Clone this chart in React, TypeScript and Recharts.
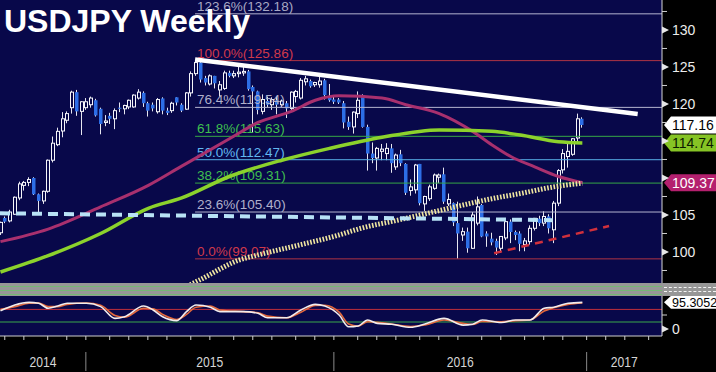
import React from "react";
import { ComposedChart, Bar, Line, XAxis, YAxis, ReferenceLine } from "recharts";

document.body.style.margin = "0";

const FONT = "'Liberation Sans', Arial, sans-serif";
const NAVY = "#08084a";

// weekly bars, week of 18 Aug 2014 to week of 19 Dec 2016
const opens = [
  102.6, 104.6, 104.2, 105.1, 107.3, 109.0, 109.4, 110.0, 107.8, 106.9,
  108.2, 112.4, 114.5, 116.35, 117.8, 119.5, 121.6, 119.0, 119.5, 119.9,
  120.5, 119.35, 117.5, 118.4, 118.0, 119.5, 119.35, 119.6, 119.6, 120.8,
  121.5, 120.1, 119.9, 118.95, 120.75, 119.1, 119.1, 120.9, 119.9, 119.3,
  121.5, 124.1, 125.6, 123.5, 122.7, 123.8, 121.9, 122.1, 124.2, 123.8,
  124.1, 124.2, 124.4, 122.3, 121.7, 119.0, 120.4, 119.9, 120.5, 119.9,
  120.1, 119.4, 121.0, 120.8, 123.0, 123.1, 122.6, 122.6, 123.2, 121.0,
  120.6, 120.6, 120.1, 117.6, 116.9, 118.7, 121.2, 116.9, 113.3, 112.7,
  113.6, 113.3, 114.0, 111.5, 113.2, 111.9, 108.3, 108.4, 111.9, 106.5,
  107.2, 108.6, 110.1, 110.5, 106.5, 106.6, 103.9, 102.3, 102.75, 100.5,
  103.9, 106.35, 102.5, 101.8, 101.5, 100.5, 101.9, 104.1, 102.7, 102.5,
  101.0, 101.4, 103.2, 104.5, 103.9, 104.8, 103.0, 106.6, 111.1, 112.9,
  113.2, 115.4, 118.0,
];
const highs = [
  104.1, 104.8, 105.7, 107.5, 109.5, 109.6, 110.1, 110.1, 107.9, 108.3,
  112.5, 115.6, 116.8, 118.9, 119.0, 121.8, 121.9, 120.4, 120.8, 121.0,
  120.7, 119.5, 118.5, 118.8, 119.4, 120.2, 119.9, 120.6, 121.3, 122.0,
  121.7, 120.3, 120.2, 120.8, 120.9, 119.5, 120.3, 120.9, 120.1, 121.6,
  124.4, 125.9, 125.8, 123.8, 124.0, 123.8, 123.1, 124.5, 124.5, 124.5,
  125.0, 125.3, 124.6, 122.5, 121.8, 121.3, 121.0, 120.9, 121.0, 120.6,
  120.4, 121.7, 121.9, 123.5, 123.8, 123.3, 123.0, 123.7, 123.4, 122.7,
  121.0, 120.8, 120.4, 118.3, 119.0, 121.7, 121.3, 117.2, 114.8, 114.2,
  114.6, 114.7, 114.6, 113.3, 113.8, 112.0, 109.8, 111.9, 111.9, 107.6,
  109.1, 110.6, 110.6, 111.4, 107.9, 106.7, 106.8, 103.3, 103.3, 105.4,
  107.5, 106.5, 102.8, 102.6, 101.8, 102.1, 104.2, 104.4, 102.9, 102.8,
  101.9, 103.6, 104.6, 104.9, 105.5, 105.1, 106.9, 111.2, 113.9, 114.8,
  115.4, 118.7, 118.2,
];
const lows = [
  102.3, 103.9, 104.0, 105.0, 107.0, 108.3, 108.9, 107.7, 105.3, 106.5,
  108.0, 112.1, 114.3, 115.5, 117.4, 118.7, 118.4, 115.8, 119.2, 119.5,
  118.3, 115.9, 117.0, 117.3, 116.6, 118.9, 118.6, 119.3, 119.5, 120.6,
  119.6, 118.3, 119.0, 118.7, 118.6, 118.5, 118.8, 119.8, 118.9, 119.2,
  121.0, 123.8, 122.9, 122.5, 122.5, 122.1, 121.0, 121.9, 123.6, 123.5,
  123.6, 123.8, 121.8, 116.2, 118.6, 118.6, 119.6, 119.2, 118.6, 119.6,
  118.1, 119.2, 120.2, 120.6, 122.5, 122.2, 122.3, 122.2, 120.6, 120.3,
  120.0, 120.0, 116.7, 116.5, 116.0, 118.1, 116.8, 111.0, 112.0, 111.0,
  112.4, 112.4, 110.7, 111.1, 111.6, 107.7, 107.6, 107.9, 106.3, 105.55,
  106.9, 108.4, 109.3, 106.5, 106.2, 103.5, 99.1, 101.5, 99.9, 100.4,
  103.6, 102.0, 100.7, 100.9, 99.6, 99.9, 101.6, 101.2, 101.6, 100.1,
  100.1, 101.0, 102.9, 103.5, 103.5, 102.5, 101.2, 106.2, 110.6, 111.4,
  113.0, 114.8, 116.8,
];
const closes = [
  104.0, 104.1, 105.4, 107.4, 109.2, 109.4, 109.8, 107.8, 106.9, 108.2,
  112.4, 114.7, 116.3, 118.0, 118.7, 121.6, 119.0, 120.3, 120.3, 120.8,
  118.45, 117.3, 117.7, 118.0, 119.1, 119.35, 119.8, 120.5, 121.2, 121.6,
  120.1, 119.1, 119.4, 120.6, 119.1, 118.8, 120.1, 120.2, 119.1, 121.5,
  124.1, 125.6, 123.3, 122.9, 123.8, 122.8, 122.6, 124.2, 123.8, 124.1,
  124.3, 124.4, 122.0, 121.7, 119.2, 120.6, 119.9, 120.6, 119.9, 120.4,
  119.4, 121.6, 121.7, 123.2, 123.4, 122.4, 122.9, 123.1, 121.2, 120.5,
  120.3, 120.2, 117.5, 116.9, 118.9, 120.5, 116.9, 113.3, 112.7, 114.0,
  113.9, 114.0, 112.0, 113.1, 112.0, 108.0, 108.8, 111.75, 106.6, 107.5,
  108.8, 110.4, 110.4, 106.8, 107.1, 104.0, 102.5, 102.75, 100.5, 105.0,
  106.1, 102.1, 102.1, 101.3, 100.6, 102.1, 104.1, 102.7, 102.3, 101.1,
  101.5, 103.2, 104.55, 103.9, 104.8, 103.2, 106.6, 111.0, 113.3, 113.6,
  115.3, 118.0, 117.16,
];

// moving averages, read at a few weeks each
const maPurpleWeeks = [0, 10, 21, 31, 38, 48, 54, 61, 66, 71, 80, 85, 92, 99, 103, 107, 112, 117, 122];
const maPurpleValues = [101.4, 103.1, 106.1, 109.0, 111.6, 115.3, 117.5, 119.0, 120.5, 121.1, 120.8, 119.9, 118.7, 116.3, 114.5, 112.9, 111.5, 110.2, 109.37];
const maGreenWeeks = [0, 10, 21, 31, 38, 48, 59, 69, 80, 92, 103, 109, 117, 122];
const maGreenValues = [97.3, 99.5, 102.5, 105.9, 107.3, 110.2, 112.4, 114.0, 115.5, 116.5, 116.3, 115.8, 114.9, 114.74];
const maDottedWeeks = [38, 42, 50, 54, 63, 71, 75, 84, 92, 96, 103, 109, 116, 122];
const maDottedValues = [95.0, 96.3, 98.9, 99.6, 101.0, 102.3, 103.1, 104.4, 105.6, 106.2, 107.2, 107.9, 108.8, 109.3];

// stochastic oscillator
const stochWeeks = [0, 3, 6, 8, 10, 12, 14, 18, 21, 24, 26, 30, 32, 34, 37, 39, 41, 44, 46, 51, 54, 56, 60, 63, 66, 68, 71, 73, 75, 77, 79, 82, 86, 89, 93, 97, 99, 101, 105, 108, 111, 114, 116, 119, 122];
const stochK = [65, 86, 95, 92, 74, 82, 92, 92, 80, 38, 44, 82, 68, 44, 30, 62, 86, 78, 62, 62, 56, 40, 40, 68, 88, 82, 50, 8, 11, 32, 20, 17, 6, 18, 38, 14, 17, 32, 23, 32, 32, 74, 78, 92, 95.3];
const stochD = [70, 80, 92, 93, 80, 80, 88, 93, 85, 48, 42, 74, 72, 52, 34, 52, 78, 82, 68, 62, 58, 46, 40, 60, 84, 85, 60, 18, 10, 26, 24, 18, 9, 14, 32, 20, 16, 27, 26, 30, 32, 64, 76, 88, 93];
const stochUpper = 70;
const stochLower = 25;
const stochLast = "95.3052";

// fibonacci retracement
const fibLabels = ["123.6%(132.18)", "100.0%(125.86)", "76.4%(119.54)", "61.8%(115.63)", "50.0%(112.47)", "38.2%(109.31)", "23.6%(105.40)", "0.0%(99.07)"];
const fibValues = [132.18, 125.86, 119.54, 115.63, 112.47, 109.31, 105.4, 99.07];
const fibFrom = 40.8;
const fibTo = 138.7;

// trend lines: [week, price] pairs
const resistance = [[40.8, 126.0], [133.6, 118.65]];
const support = [[-0.1, 105.23], [115.8, 104.3]];
const risingSupport = [[103.5, 99.83], [127.6, 103.51]];

// axes
const priceTicks = [97.5, 100, 102.5, 105, 107.5, 110, 112.5, 115, 117.5, 120, 122.5, 125, 127.5, 130, 132.5];
const priceLabels = [100, 105, 120, 125, 130];
const monthTicks = [0.9, 4.9, 9.9, 13.9, 17.9, 22.9, 26.9, 30.9, 34.9, 39.9, 43.9, 48.9, 52.9, 56.9, 61.9, 65.9, 69.9, 74.9, 78.9, 82.9, 87.9, 91.9, 95.9, 100.9, 104.9, 109.9, 113.9, 117.9, 122.9, 126.9, 130.9, 135.9];
const yearBreaks = [17.9, 69.9, 122.9];
const yearLabels = ["2014", "2015", "2016", "2017"];
const yearLabelAt = [8.9, 43.9, 96.4, 130.8];

const tags = [
  { value: 117.16, text: "117.16", fill: "#ffffff", color: "#000000" },
  { value: 114.74, text: "114.74", fill: "#86c425", color: "#0a1a00" },
  { value: 109.37, text: "109.37", fill: "#b4206e", color: "#ffffff" },
];

const FIB_LINE = ["#b4b4d0", "#b03444", "#b4b4d0", "#36a846", "#58b0e8", "#36a846", "#b4b4d0", "#b03444"];
const FIB_TEXT = ["#a8a8c4", "#d0394a", "#b0b0cc", "#3fbf4f", "#62b8f0", "#3fbf4f", "#b0b0cc", "#d0394a"];

const pick = (weeks: number[], vals: number[], i: number) => {
  const k = weeks.indexOf(i);
  return k >= 0 ? vals[k] : null;
};

const mainData = opens.map((o, i) => ({
  i,
  o,
  h: highs[i],
  l: lows[i],
  c: closes[i],
  range: [lows[i], highs[i]],
  purple: pick(maPurpleWeeks, maPurpleValues, i),
  green: pick(maGreenWeeks, maGreenValues, i),
  dotted: pick(maDottedWeeks, maDottedValues, i),
}));

const lowerData = opens.map((_, i) => ({
  i,
  k: pick(stochWeeks, stochK, i),
  d: pick(stochWeeks, stochD, i),
}));

function Candle(props: any) {
  const { x, y, width, height, payload } = props;
  if (!payload || x == null) return null;
  const top = Math.min(y, y + height);
  const bottom = Math.max(y, y + height);
  const { o, h, l, c } = payload;
  const span = h - l || 1;
  const py = (v: number) => bottom - ((v - l) / span) * (bottom - top);
  const n = Math.floor(x + width / 2);
  const cx = n + 0.5;
  const yo = py(o);
  const yc = py(c);
  const bt = Math.min(yo, yc);
  const bh = Math.max(Math.abs(yo - yc), 1);
  return (
    <g>
      <line x1={cx} x2={cx} y1={top} y2={bottom} stroke="#e6e6f0" strokeWidth={1} />
      {c >= o ? (
        <rect x={n - 0.5} y={bt} width={3} height={bh} fill={NAVY} stroke="#f6f6fa" strokeWidth={1} />
      ) : (
        <rect x={n - 1} y={bt} width={3.5} height={bh} fill="#2d6ee6" />
      )}
    </g>
  );
}

function PriceTick(props: any) {
  const { y, payload } = props;
  const v = payload.value;
  if (v % 5 !== 0) return <line x1={662} x2={667} y1={y} y2={y} stroke="#cfcfcf" />;
  return (
    <g>
      <path d={`M662 ${y - 3.5} L669 ${y} L662 ${y + 3.5} Z`} fill="#e6e6e6" />
      {priceLabels.includes(v) && (
        <text x={672} y={y + 5} fill="#ececec" fontSize={14} fontFamily={FONT}>
          {v}
        </text>
      )}
    </g>
  );
}

function OscTick(props: any) {
  const { y, payload } = props;
  if (payload.value !== 0) return <line x1={662} x2={667} y1={y} y2={y} stroke="#cfcfcf" />;
  return (
    <g>
      <path d={`M662 ${y - 3.5} L669 ${y} L662 ${y + 3.5} Z`} fill="#e6e6e6" />
      <text x={672} y={y + 5} fill="#ececec" fontSize={14} fontFamily={FONT}>
        0
      </text>
    </g>
  );
}

const EmptyTick = () => <g />;

function fibLabel(text: string, color: string) {
  return (p: any) => {
    const vb = p.viewBox || {};
    return (
      <text x={vb.x + 2} y={vb.y - 3} fill={color} fontSize={13.5} fontFamily={FONT}>
        {text}
      </text>
    );
  };
}

function valueTag(text: string, fill: string, color: string, half: number, size: number) {
  return (p: any) => {
    const vb = p.viewBox || {};
    const x0 = vb.x + vb.width;
    const y = vb.y;
    return (
      <g>
        <path d={`M${x0 + 2} ${y} L${x0 + 9} ${y - half} H716 V${y + half} H${x0 + 9} Z`} fill={fill} />
        <text x={x0 + 10} y={y + size * 0.36} fill={color} fontSize={size} fontFamily={FONT}>
          {text}
        </text>
      </g>
    );
  };
}

function yearBreak() {
  return (p: any) => {
    const vb = p.viewBox || {};
    const b = vb.y + vb.height;
    return <line x1={vb.x} x2={vb.x} y1={b + 16} y2={b + 35} stroke="#8a8a8a" strokeWidth={1} />;
  };
}

function yearText(text: string) {
  return (p: any) => {
    const vb = p.viewBox || {};
    const b = vb.y + vb.height;
    return (
      <text
        x={vb.x}
        y={b + 31}
        textAnchor="middle"
        fill="#d6d6d6"
        fontSize={15}
        fontFamily={FONT}
        textLength={27}
        lengthAdjust="spacingAndGlyphs"
      >
        {text}
      </text>
    );
  };
}

const seg = (pts: number[][]) => pts.map(([x, y]) => ({ x, y }));

export default function App() {
  return (
    <div
      style={{
        position: "absolute",
        left: 0,
        top: 0,
        width: 716,
        height: 372,
        background: "#000",
        overflow: "hidden",
        fontFamily: FONT,
      }}
    >
      <div style={{ position: "absolute", left: 0, top: 0, width: 662, height: 336, background: NAVY }} />

      <div style={{ position: "absolute", left: 0, top: 0 }}>
        <ComposedChart width={716} height={283} data={mainData} margin={{ top: 0, right: 0, bottom: 0, left: 0 }}>
          <XAxis dataKey="i" type="number" domain={[-0.1, 138.7]} allowDataOverflow hide />
          <YAxis
            orientation="right"
            width={54}
            domain={[95.81, 134.05]}
            allowDataOverflow
            ticks={priceTicks}
            interval={0}
            tick={PriceTick}
            tickLine={false}
            axisLine={{ stroke: "#d8d8d8" }}
          />
          {fibValues.map((v, k) => (
            <ReferenceLine
              key={fibLabels[k]}
              segment={[{ x: fibFrom, y: v }, { x: fibTo, y: v }]}
              stroke={FIB_LINE[k]}
              strokeWidth={1}
              label={fibLabel(fibLabels[k], FIB_TEXT[k])}
            />
          ))}
          <Bar dataKey="range" barSize={4} shape={Candle} isAnimationActive={false} />
          <Line dataKey="purple" type="monotone" stroke="#a8306e" strokeWidth={3} dot={false} activeDot={false} connectNulls isAnimationActive={false} />
          <Line dataKey="green" type="monotone" stroke="#8cd22c" strokeWidth={3.5} dot={false} activeDot={false} connectNulls isAnimationActive={false} />
          <Line dataKey="dotted" type="monotone" stroke="#f0e6a0" strokeWidth={5} strokeDasharray="1.6 1.6" dot={false} activeDot={false} connectNulls isAnimationActive={false} />
          <ReferenceLine segment={seg(support)} stroke="#b8e2f6" strokeWidth={4} strokeDasharray="10 6" />
          <ReferenceLine segment={seg(risingSupport)} stroke="#d0303c" strokeWidth={2.5} strokeDasharray="8 6" />
          <ReferenceLine segment={seg(resistance)} stroke="#ffffff" strokeWidth={4.5} />
          {tags.map((t) => (
            <ReferenceLine key={t.text} y={t.value} stroke="none" label={valueTag(t.text, t.fill, t.color, 8.5, 14)} />
          ))}
        </ComposedChart>
      </div>

      <div style={{ position: "absolute", left: 0, top: 296 }}>
        <ComposedChart width={716} height={76} data={lowerData} margin={{ top: 0, right: 0, bottom: 0, left: 0 }}>
          <XAxis
            dataKey="i"
            type="number"
            domain={[-0.1, 138.7]}
            allowDataOverflow
            ticks={monthTicks}
            interval={0}
            height={36}
            tickSize={4}
            tickLine={{ stroke: "#cfcfcf" }}
            axisLine={{ stroke: "#cfcfcf" }}
            tick={EmptyTick}
          />
          <YAxis
            orientation="right"
            width={54}
            domain={[-25, 117.9]}
            allowDataOverflow
            ticks={[0, 50]}
            interval={0}
            tick={OscTick}
            tickLine={false}
            axisLine={{ stroke: "#d8d8d8" }}
          />
          <ReferenceLine y={stochUpper} stroke="#c0303c" strokeWidth={1} />
          <ReferenceLine y={stochLower} stroke="#3aa84a" strokeWidth={1} />
          <Line dataKey="d" type="monotone" stroke="#e2683c" strokeWidth={1.6} dot={false} activeDot={false} connectNulls isAnimationActive={false} />
          <Line dataKey="k" type="monotone" stroke="#f2ecec" strokeWidth={1.6} dot={false} activeDot={false} connectNulls isAnimationActive={false} />
          <ReferenceLine y={95.3052} stroke="none" label={valueTag(stochLast, "#ffffff", "#000000", 6.5, 12.5)} />
          {yearBreaks.map((b) => (
            <ReferenceLine key={b} x={b} stroke="none" label={yearBreak()} />
          ))}
          {yearLabels.map((t, k) => (
            <ReferenceLine key={t} x={yearLabelAt[k]} stroke="none" label={yearText(t)} />
          ))}
        </ComposedChart>
      </div>

      <div style={{ position: "absolute", left: 0, top: 283, width: 716, height: 13, background: "#979797" }}>
        {[3, 7, 11].map((t) => (
          <div key={t} style={{ position: "absolute", left: 0, top: t, width: 662, height: 1, background: "#74b874" }} />
        ))}
        {[3.5, 8].map((t) => (
          <div key={t} style={{ position: "absolute", left: 664, top: t, width: 52, height: 0, borderTop: "1.5px dashed #f4f4f4" }} />
        ))}
      </div>

      <svg width={716} height={40} style={{ position: "absolute", left: 0, top: 0, pointerEvents: "none" }}>
        <text x={4} y={32} fill="#ffffff" fontSize={32} fontWeight="bold" fontFamily={FONT}>
          USDJPY Weekly
        </text>
      </svg>
    </div>
  );
}
